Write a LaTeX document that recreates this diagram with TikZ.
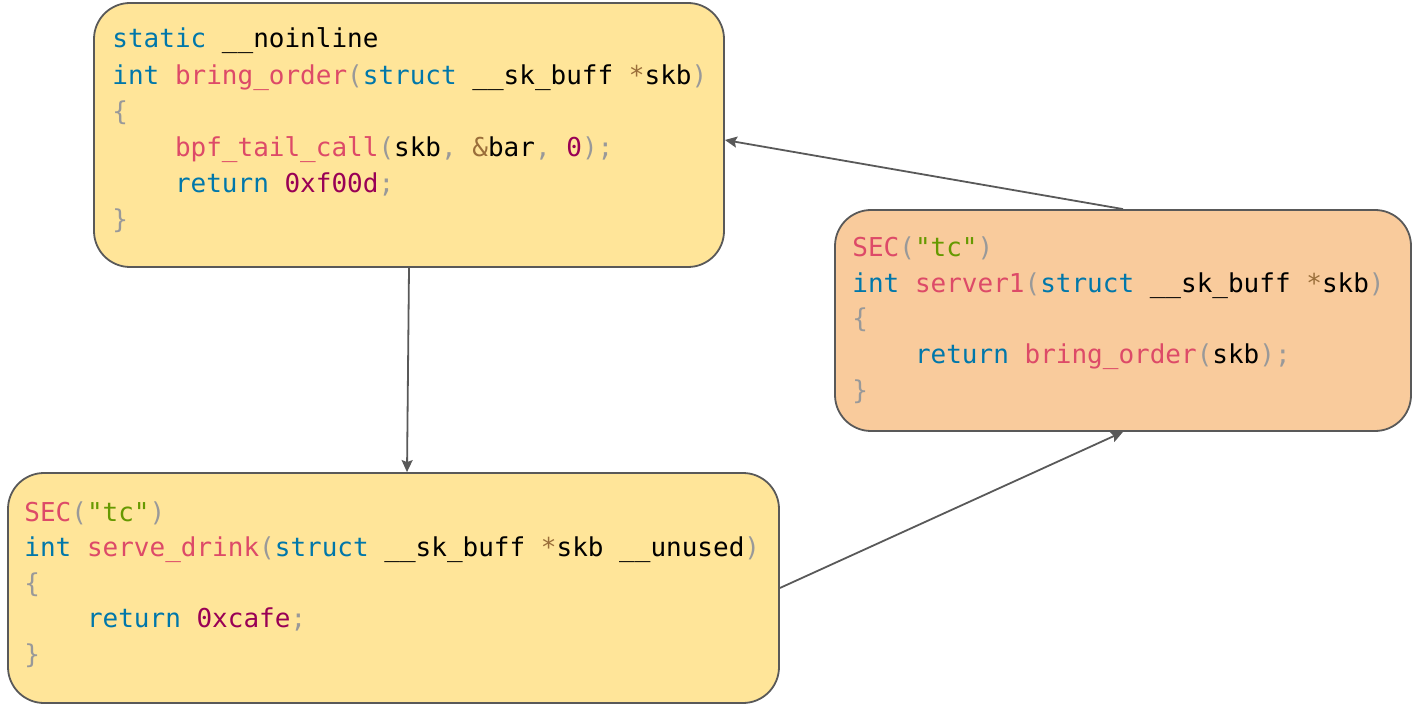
\documentclass[tikz,border=0pt]{standalone}
\usepackage{fontspec}
\setmonofont{DejaVu Sans Mono}
\usetikzlibrary{arrows.meta}

% syntax colours
\definecolor{kwcol}{HTML}{0077AA}
\definecolor{fncol}{HTML}{DD4A68}
\definecolor{pucol}{HTML}{999999}
\definecolor{numcol}{HTML}{990055}
\definecolor{strcol}{HTML}{669900}
\definecolor{opcol}{HTML}{9A6E3A}
% box colours
\definecolor{edgegray}{HTML}{595959}
\definecolor{yellowfill}{HTML}{FFE599}
\definecolor{orangefill}{HTML}{F9CB9C}

\newcommand\cKw[1]{\textcolor{kwcol}{#1}}
\newcommand\cFn[1]{\textcolor{fncol}{#1}}
\newcommand\cPu[1]{\textcolor{pucol}{#1}}
\newcommand\cNum[1]{\textcolor{numcol}{#1}}
\newcommand\cStr[1]{\textcolor{strcol}{#1}}
\newcommand\cOp[1]{\textcolor{opcol}{#1}}
\newcommand\codefont{\ttfamily\fontsize{13pt}{18pt}\selectfont}
\newcommand\ind{\phantom{0000}}

\begin{document}
\begin{tikzpicture}[x=0.5pt,y=-0.5pt,
  codebox/.style={draw=edgegray,line width=0.9pt,rounded corners=18pt,inner sep=0pt},
  codeline/.style={anchor=base west,inner sep=0pt,font=\codefont},
  link/.style={draw=edgegray,line width=0.9pt,-{Stealth[length=6pt,width=5.5pt,inset=1pt]}}]

\useasboundingbox (0,0) rectangle (1412,705);

% boxes
\node[codebox,fill=yellowfill,minimum width=315pt,minimum height=132pt] (order) at (409,135) {};
\node[codebox,fill=orangefill,minimum width=288pt,minimum height=110.5pt] (server) at (1123,320.5) {};
\node[codebox,fill=yellowfill,minimum width=385.5pt,minimum height=115pt] (drink) at (393.5,588) {};

% bring_order
\node[codeline] (o1) at (112,48) {\cKw{static} \_\_noinline};
\node[codeline] (o2) at (112,84.2) {\cKw{int} \cFn{bring\_order}\cPu{(}\cKw{struct} \_\_sk\_buff \cOp{*}skb\cPu{)}};
\node[codeline] (o3) at (112,120.4) {\cPu{\{}};
\node[codeline] (o4) at (112,156.6) {\ind\cFn{bpf\_tail\_call}\cPu{(}skb\cPu{,} \cOp{\&}bar\cPu{,} \cNum{0}\cPu{);}};
\node[codeline] (o5) at (112,192.8) {\ind\cKw{return} \cNum{0xf00d}\cPu{;}};
\node[codeline] (o6) at (112,229) {\cPu{\}}};

% server1
\node[codeline] (s1) at (852,257) {\cFn{SEC}\cPu{(}\cStr{"tc"}\cPu{)}};
\node[codeline] (s2) at (852,292.5) {\cKw{int} \cFn{server1}\cPu{(}\cKw{struct} \_\_sk\_buff \cOp{*}skb\cPu{)}};
\node[codeline] (s3) at (852,328) {\cPu{\{}};
\node[codeline] (s4) at (852,363.5) {\ind\cKw{return} \cFn{bring\_order}\cPu{(}skb\cPu{);}};
\node[codeline] (s5) at (852,399) {\cPu{\}}};

% serve_drink
\node[codeline] (d1) at (24,521) {\cFn{SEC}\cPu{(}\cStr{"tc"}\cPu{)}};
\node[codeline] (d2) at (24,556.5) {\cKw{int} \cFn{serve\_drink}\cPu{(}\cKw{struct} \_\_sk\_buff \cOp{*}skb \_\_unused\cPu{)}};
\node[codeline] (d3) at (24,592) {\cPu{\{}};
\node[codeline] (d4) at (24,627.5) {\ind\cKw{return} \cNum{0xcafe}\cPu{;}};
\node[codeline] (d5) at (24,663) {\cPu{\}}};

% calls
\draw[link] (order.south) -- ([xshift=6.75pt]drink.north);
\draw[link] (server.north) -- ([yshift=-2.5pt]order.east);
\draw[link] (drink.east) -- (server.south);

\end{tikzpicture}
\end{document}
